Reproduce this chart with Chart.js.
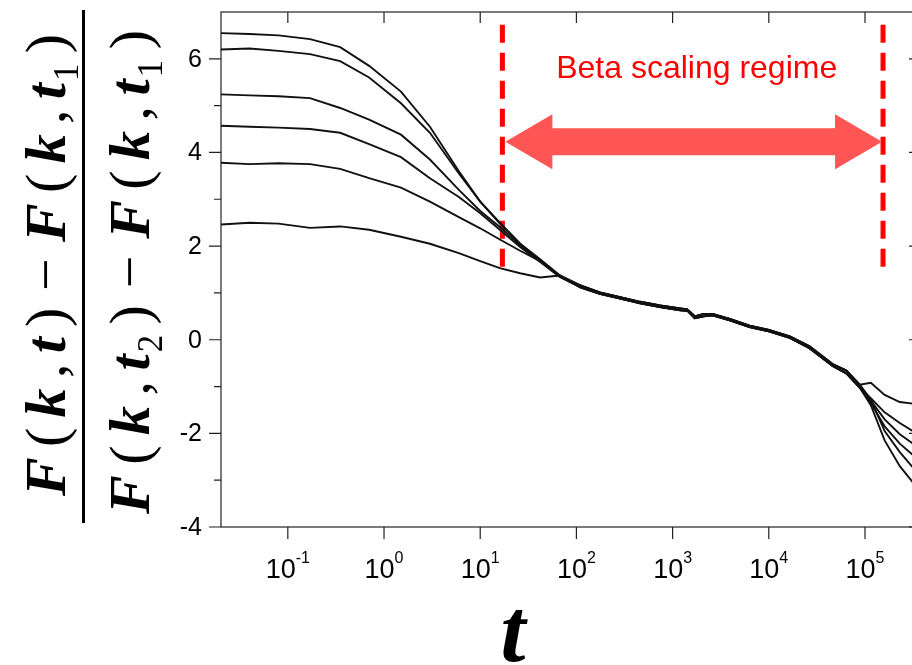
<!DOCTYPE html>
<html>
<head>
<meta charset="utf-8">
<script src="https://cdn.jsdelivr.net/npm/chart.js@4.4.1/dist/chart.umd.min.js"></script>
<style>
  html, body { margin: 0; padding: 0; background: #fff; overflow: hidden; }
  #wrap { position: absolute; left: 0; top: 0; width: 935px; height: 665px; }
</style>
</head>
<body>
<div id="wrap"><canvas id="chart" width="935" height="665"></canvas></div>
<script>
// axis ranges (log10 t from about -1.69 to 5.57)
const X_MIN = 0.0202;
const X_MAX = 3.73e5;
const Y_MIN = -4;
const Y_MAX = 7;

const xTickExps = [-1, 0, 1, 2, 3, 4, 5];
const yTicks = [-4, -2, 0, 2, 4, 6];
const yMinorTicks = [-3, -1, 1, 3, 5];

// early times: curves separate by plateau height
const headTimes = [0.02, 0.04, 0.08, 0.17, 0.35, 0.7, 1.5, 3, 6, 10, 16, 26, 42, 67];
const headA = [6.55, 6.53, 6.5, 6.42, 6.25, 5.85, 5.3, 4.55, 3.6, 2.95, 2.5, 2.05, 1.72, 1.38];
const headB = [6.2, 6.22, 6.17, 6.1, 5.95, 5.6, 5.05, 4.42, 3.55, 2.95, 2.48, 2.05, 1.7, 1.36];
const headC = [5.24, 5.22, 5.2, 5.16, 4.95, 4.7, 4.38, 3.85, 3.2, 2.75, 2.41, 2.02, 1.68, 1.35];
const headD = [4.57, 4.55, 4.53, 4.5, 4.42, 4.18, 3.9, 3.45, 3.05, 2.7, 2.35, 1.98, 1.66, 1.34];
const headE = [3.78, 3.75, 3.77, 3.75, 3.65, 3.45, 3.25, 2.95, 2.62, 2.38, 2.14, 1.9, 1.68, 1.36];
const headF = [2.46, 2.5, 2.48, 2.39, 2.42, 2.35, 2.2, 2.05, 1.85, 1.68, 1.53, 1.42, 1.33, 1.37];

// beta regime: all curves collapse
const midTimes = [110, 175, 285, 460, 740, 1200, 1420, 1700, 2100, 2600, 4000, 6300, 10000, 16500, 26500, 46000, 64000, 88000];
const midUpper = [1.16, 1.01, 0.91, 0.81, 0.73, 0.67, 0.65, 0.5, 0.55, 0.55, 0.44, 0.3, 0.21, 0.07, -0.14, -0.52, -0.66, -0.96];
const midLower = [1.12, 0.98, 0.88, 0.78, 0.7, 0.63, 0.62, 0.46, 0.5, 0.52, 0.41, 0.27, 0.18, 0.04, -0.18, -0.56, -0.72, -1.02];

// late times: curves fan out again
const tailTimes = [115000, 160000, 230000, 330000, 420000];
const tailA = [-0.92, -1.18, -1.33, -1.37, -1.38];
const tailB = [-1.25, -1.55, -1.78, -1.98, -2.1];
const tailC = [-1.3, -1.7, -2.02, -2.25, -2.4];
const tailD = [-1.35, -1.85, -2.22, -2.5, -2.65];
const tailE = [-1.28, -1.95, -2.4, -2.78, -2.95];
const tailF = [-1.4, -2.15, -2.7, -3.1, -3.3];

// beta scaling regime markers
const regimeStart = 17;
const regimeEnd = 1.54e5;
const regimeTop = 6.73;
const regimeBottom = 1.54;
const arrowY = 4.23;
const regimeLabelY = 5.6;

const heads = [headA, headB, headC, headD, headE, headF];
const mids = [midUpper, midLower, midUpper, midLower, midUpper, midLower];
const tails = [tailA, tailB, tailC, tailD, tailE, tailF];

function toPoints(times, vals) {
  return times.map((t, i) => ({ x: t, y: vals[i] }));
}

const datasets = heads.map((h, i) => ({
  data: toPoints(headTimes, h)
    .concat(toPoints(midTimes, mids[i]))
    .concat(toPoints(tailTimes, tails[i])),
  borderColor: '#111',
  borderWidth: 1.9,
  pointRadius: 0,
  tension: 0
}));

[regimeStart, regimeEnd].forEach(t => {
  datasets.push({
    data: [{ x: t, y: regimeTop }, { x: t, y: regimeBottom }],
    borderColor: '#ff0000',
    borderWidth: 5,
    borderDash: [18, 10],
    borderCapStyle: 'butt',
    pointRadius: 0
  });
});

// frame, ticks and tick labels
const axesPlugin = {
  id: 'axes',
  beforeDatasetsDraw(chart) {
    const { ctx, chartArea: a, scales: { x, y } } = chart;
    ctx.save();
    ctx.strokeStyle = '#222';
    ctx.lineWidth = 1.2;
    ctx.strokeRect(a.left, a.top, a.right - a.left, a.bottom - a.top);
    ctx.beginPath();
    yMinorTicks.forEach(v => {
      const py = y.getPixelForValue(v);
      ctx.moveTo(a.left - 7, py); ctx.lineTo(a.left, py);
    });
    yTicks.forEach(v => {
      const py = y.getPixelForValue(v);
      ctx.moveTo(a.left - 12, py); ctx.lineTo(a.left, py);
      ctx.moveTo(a.right, py); ctx.lineTo(a.right - 11, py);
    });
    xTickExps.forEach(e => {
      const px = x.getPixelForValue(Math.pow(10, e));
      ctx.moveTo(px, a.bottom); ctx.lineTo(px, a.bottom + 12);
      ctx.moveTo(px, a.top); ctx.lineTo(px, a.top + 11);
    });
    ctx.stroke();

    ctx.fillStyle = '#000';
    ctx.font = '25px "Liberation Sans", Arial, sans-serif';
    ctx.textAlign = 'right';
    ctx.textBaseline = 'middle';
    yTicks.forEach(v => {
      ctx.fillText(String(v), a.left - 19, y.getPixelForValue(v) + 1);
    });

    ctx.textAlign = 'left';
    ctx.textBaseline = 'alphabetic';
    xTickExps.forEach(e => {
      const px = x.getPixelForValue(Math.pow(10, e));
      ctx.font = '27px "Liberation Sans", Arial, sans-serif';
      const wBase = ctx.measureText('10').width;
      ctx.font = '16px "Liberation Sans", Arial, sans-serif';
      const wExp = ctx.measureText(String(e)).width;
      const left = px - (wBase + wExp) / 2;
      ctx.font = '27px "Liberation Sans", Arial, sans-serif';
      ctx.fillText('10', left, a.bottom + 51);
      ctx.font = '16px "Liberation Sans", Arial, sans-serif';
      ctx.fillText(String(e), left + wBase, a.bottom + 36);
    });
    ctx.restore();
  }
};

// double arrow and label of the beta regime
const regimePlugin = {
  id: 'regime',
  afterDatasetsDraw(chart) {
    const { ctx, scales: { x, y } } = chart;
    const x0 = x.getPixelForValue(regimeStart) + 3;
    const x1 = x.getPixelForValue(regimeEnd) - 1;
    const cy = y.getPixelForValue(arrowY);
    const head = 47, hh = 27.5, sh = 13.5;
    ctx.save();
    ctx.fillStyle = 'rgb(255, 85, 85)';
    ctx.beginPath();
    ctx.moveTo(x0, cy);
    ctx.lineTo(x0 + head, cy - hh);
    ctx.lineTo(x0 + head, cy - sh);
    ctx.lineTo(x1 - head, cy - sh);
    ctx.lineTo(x1 - head, cy - hh);
    ctx.lineTo(x1, cy);
    ctx.lineTo(x1 - head, cy + hh);
    ctx.lineTo(x1 - head, cy + sh);
    ctx.lineTo(x0 + head, cy + sh);
    ctx.lineTo(x0 + head, cy + hh);
    ctx.closePath();
    ctx.fill();

    ctx.fillStyle = '#ff0000';
    ctx.font = '32px "Liberation Sans", Arial, sans-serif';
    ctx.textAlign = 'center';
    ctx.textBaseline = 'alphabetic';
    ctx.fillText('Beta scaling regime', (x0 + x1) / 2 + 3, y.getPixelForValue(regimeLabelY));
    ctx.restore();
  }
};

function partFont(style, size) {
  if (style === 'bi') return 'italic bold ' + size + 'px "Liberation Serif", "Times New Roman", serif';
  return size + 'px "Liberation Serif", "Times New Roman", serif';
}

// one line of the fraction, rotated, spread to a given length
function drawExpr(ctx, parts, cx, cy, size, len) {
  ctx.save();
  ctx.translate(cx, cy);
  ctx.rotate(-Math.PI / 2);
  ctx.textBaseline = 'alphabetic';
  ctx.textAlign = 'left';
  let total = 0, weights = 0;
  const widths = parts.map((p, i) => {
    const s = p[2] ? size * 0.6 : size;
    ctx.font = partFont(p[1], s);
    const w = ctx.measureText(p[0]).width;
    total += w;
    if (i > 0) weights += p[3];
    return w;
  });
  const unit = (len - total) / weights;
  let pos = -len / 2;
  parts.forEach((p, i) => {
    if (i > 0) pos += unit * p[3];
    const s = p[2] ? size * 0.6 : size;
    ctx.font = partFont(p[1], s);
    ctx.fillText(p[0], pos, size * 0.33 + (p[2] ? size * 0.22 : 0));
    pos += widths[i];
  });
  ctx.restore();
}

const numerParts = [
  ['F', 'bi', false, 0], ['(', 'r', false, 1], ['k', 'bi', false, 1], [',', 'r', false, 1],
  ['t', 'bi', false, 1], [')', 'r', false, 1], ['\u2212', 'r', false, 1.6], ['F', 'bi', false, 1.6],
  ['(', 'r', false, 1], ['k', 'bi', false, 1], [',', 'r', false, 1], ['t', 'bi', false, 1],
  ['1', 'r', true, 0.2], [')', 'r', false, 1]
];
const denomParts = [
  ['F', 'bi', false, 0], ['(', 'r', false, 1], ['k', 'bi', false, 1], [',', 'r', false, 1],
  ['t', 'bi', false, 1], ['2', 'r', true, 0.2], [')', 'r', false, 1], ['\u2212', 'r', false, 1.6],
  ['F', 'bi', false, 1.6], ['(', 'r', false, 1], ['k', 'bi', false, 1], [',', 'r', false, 1],
  ['t', 'bi', false, 1], ['1', 'r', true, 0.2], [')', 'r', false, 1]
];

const titlePlugin = {
  id: 'titles',
  afterDraw(chart) {
    const { ctx } = chart;
    drawExpr(ctx, numerParts, 46, 265, 58, 462);
    drawExpr(ctx, denomParts, 130, 272, 58, 484);
    ctx.save();
    ctx.fillStyle = '#000';
    ctx.fillRect(82, 10, 3, 513);
    ctx.font = 'italic bold 90px "Liberation Serif", "Times New Roman", serif';
    ctx.textAlign = 'center';
    ctx.textBaseline = 'alphabetic';
    ctx.fillText('t', 513, 661);
    ctx.restore();
  }
};

new Chart(document.getElementById('chart'), {
  type: 'line',
  data: { datasets },
  options: {
    responsive: false,
    animation: false,
    layout: { padding: { left: 221, top: 12, right: 15, bottom: 138 } },
    plugins: { legend: { display: false }, tooltip: { enabled: false } },
    scales: {
      x: { type: 'logarithmic', min: X_MIN, max: X_MAX, display: false },
      y: { type: 'linear', min: Y_MIN, max: Y_MAX, display: false }
    }
  },
  plugins: [axesPlugin, regimePlugin, titlePlugin]
});
</script>
</body>
</html>
